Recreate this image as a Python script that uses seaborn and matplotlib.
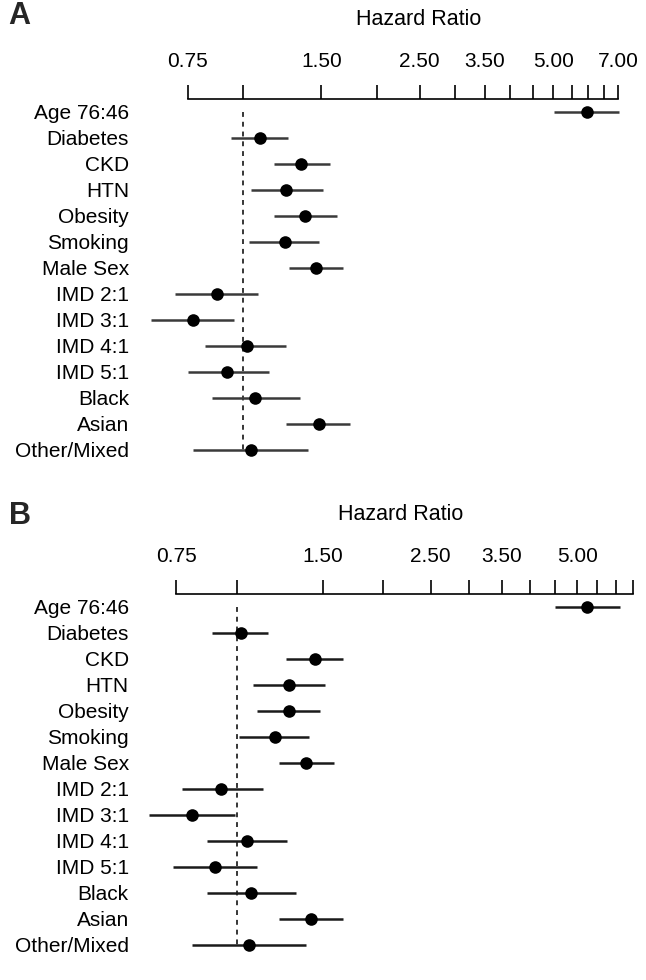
import numpy as np
import pandas as pd
import matplotlib
matplotlib.use("Agg")
import matplotlib.pyplot as plt
import seaborn as sns
from matplotlib.ticker import FixedLocator, FixedFormatter, NullLocator

sns.set_theme(style="white")
plt.rcParams["font.family"] = ["Liberation Sans", "DejaVu Sans"]

labels = ["Age 76:46", "Diabetes", "CKD", "HTN", "Obesity", "Smoking", "Male Sex",
          "IMD 2:1", "IMD 3:1", "IMD 4:1", "IMD 5:1", "Black", "Asian", "Other/Mixed"]

hr_a = [5.96, 1.09, 1.35, 1.25, 1.38, 1.24, 1.46, 0.87, 0.77, 1.02, 0.92, 1.06, 1.48, 1.04]
lo_a = [5.02, 0.94, 1.17, 1.04, 1.17, 1.03, 1.27, 0.70, 0.62, 0.82, 0.75, 0.85, 1.25, 0.77]
hi_a = [7.05, 1.26, 1.57, 1.51, 1.63, 1.48, 1.68, 1.08, 0.95, 1.25, 1.14, 1.34, 1.74, 1.40]

hr_b = [5.24, 1.02, 1.45, 1.28, 1.28, 1.20, 1.39, 0.93, 0.81, 1.05, 0.90, 1.07, 1.42, 1.06]
lo_b = [4.50, 0.89, 1.26, 1.08, 1.10, 1.01, 1.22, 0.77, 0.66, 0.87, 0.74, 0.87, 1.22, 0.81]
hi_b = [6.13, 1.16, 1.65, 1.52, 1.48, 1.41, 1.58, 1.13, 0.99, 1.27, 1.10, 1.32, 1.65, 1.39]

ticks_a = [0.75, 1, 1.5, 2, 2.5, 3, 3.5, 4, 4.5, 5, 5.5, 6, 6.5, 7]
ticks_b = [0.75, 1, 1.5, 2, 2.5, 3, 3.5, 4, 4.5, 5, 5.5, 6, 6.5]
shown = {0.75: "0.75", 1.5: "1.50", 2.5: "2.50", 3.5: "3.50", 5: "5.00", 7: "7.00"}

W, H = 646, 980
fig = plt.figure(figsize=(W / 100, H / 100), dpi=100)
axA = fig.add_axes([188 / W, 1 - 463 / H, 430 / W, 364 / H])
axB = fig.add_axes([176 / W, 1 - 958 / H, 456.6 / W, 364 / H])


def draw(ax, hr, lo, hi, ticks, ypad, label_x, line_color):
    df = pd.DataFrame({"label": labels, "hr": hr, "lo": lo, "hi": hi,
                       "pos": np.arange(len(labels))})
    ax.set_xscale("log")
    ax.hlines(df["pos"], df["lo"], df["hi"], color=line_color, lw=1.8,
              clip_on=False, zorder=2)
    sns.scatterplot(data=df, x="hr", y="pos", ax=ax, color="black", s=82,
                    linewidth=0, zorder=3, clip_on=False, legend=False)
    ax.vlines(1.0, 0.0, 13.0, colors="black", linestyles=(0, (3.2, 3.2)),
              lw=1.1, zorder=1)
    ax.set_xlim(ticks[0], ticks[-1])
    ax.set_ylim(13.5, -0.49)
    sns.despine(ax=ax, top=False, right=True, left=True, bottom=True)
    ax.spines["top"].set_color("black")
    ax.spines["top"].set_linewidth(1.2)
    ax.xaxis.set_ticks_position("top")
    ax.xaxis.set_major_locator(FixedLocator(ticks))
    ax.xaxis.set_major_formatter(FixedFormatter([shown.get(t, "") for t in ticks]))
    ax.xaxis.set_minor_locator(NullLocator())
    ax.tick_params(axis="x", which="major", direction="out", length=10, width=1.2,
                   color="black", pad=10, labelsize=15, labelcolor="black")
    ax.set_yticks(df["pos"])
    ax.set_yticklabels(df["label"])
    ax.tick_params(axis="y", length=0, pad=ypad, labelsize=15, labelcolor="black")
    ax.set_xlabel("")
    ax.set_ylabel("")
    ax.grid(False)
    ax.text(label_x, 1 + 79 / 364, "Hazard Ratio", transform=ax.transAxes,
            ha="center", va="center", fontsize=15.5, color="black")


draw(axA, hr_a, lo_a, hi_a, ticks_a, 42.5, 0.537, "#3a3a3a")
draw(axB, hr_b, lo_b, hi_b, ticks_b, 34.0, 0.493, "#1a1a1a")

fig.text(19 / W, 1 - 16 / H, "A", fontsize=22, fontweight="bold", ha="center", va="center")
fig.text(20 / W, 1 - 516 / H, "B", fontsize=22, fontweight="bold", ha="center", va="center")

fig.savefig("out.png", dpi=100, facecolor="white")
